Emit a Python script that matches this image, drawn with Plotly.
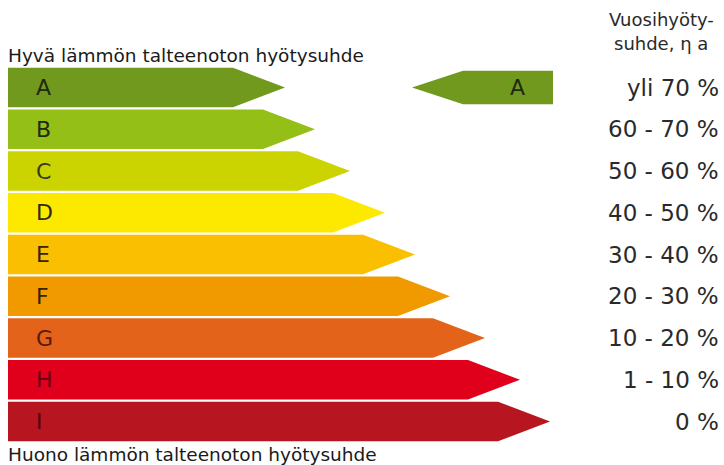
import plotly.graph_objects as go

# ---- data ----
classes = ["A", "B", "C", "D", "E", "F", "G", "H", "I"]
ranges = ["yli 70 %", "60 - 70 %", "50 - 60 %", "40 - 50 %", "30 - 40 %",
          "20 - 30 %", "10 - 20 %", "1 - 10 %", "0 %"]
arrow_lengths = [285, 315, 350, 385, 415, 450, 485, 520, 550]  # tip position (px-units)
colors = ["#71991e", "#93bf17", "#cbd400", "#fde800", "#f9bf00",
          "#f19a00", "#e3631a", "#e1001c", "#b7151f"]
letter_colors = ["#1f2a10", "#1f2a10", "#3a3a2a", "#2e2a10", "#3a1d0a",
                 "#3a1d0a", "#5a1a0a", "#6a0012", "#5a0010"]
rated_class = "A"
header_lines = ["Vuosihyöty-", "suhde, η a"]
top_text = "Hyvä lämmön talteenoton hyötysuhde"
bottom_text = "Huono lämmön talteenoton hyötysuhde"

# ---- geometry (layout only) ----
x0 = 8
head = 52
half_h = 0.475
pitch = 41.75
y_top_px = 87.5
H = 465
W = 724
y_range = [(H - y_top_px) / pitch, -y_top_px / pitch]


def py(px):
    return (px - y_top_px) / pitch


fig = go.Figure()
font = "DejaVu Sans, Verdana, sans-serif"

for i, (c, L, col) in enumerate(zip(classes, arrow_lengths, colors)):
    xs = [x0, L - head, L, L - head, x0, x0]
    ys = [i - half_h, i - half_h, i, i + half_h, i + half_h, i - half_h]
    fig.add_trace(go.Scatter(x=xs, y=ys, fill="toself", fillcolor=col,
                             mode="lines", line=dict(width=0, color=col),
                             hoverinfo="skip", showlegend=False))
    fig.add_annotation(x=x0 + 26, y=i, text=c, showarrow=False, xanchor="left",
                       yanchor="middle",
                       font=dict(family=font, size=22, color=letter_colors[i]))
    fig.add_annotation(x=721, y=i, text=ranges[i], showarrow=False, xanchor="right",
                       yanchor="middle",
                       font=dict(family=font, size=23, color="#2a2a2a"))

# rated arrow
ri = classes.index(rated_class)
rx_tip, rx_body, rx_right = 412, 463, 553
rh = 0.4
fig.add_trace(go.Scatter(
    x=[rx_tip, rx_body, rx_right, rx_right, rx_body, rx_tip],
    y=[ri, ri - rh, ri - rh, ri + rh, ri + rh, ri],
    fill="toself", fillcolor=colors[ri], mode="lines",
    line=dict(width=0, color=colors[ri]), hoverinfo="skip", showlegend=False))
fig.add_annotation(x=517, y=ri, text=rated_class, showarrow=False, xanchor="center",
                   yanchor="middle", font=dict(family=font, size=22, color="#1f2a10"))

# header and descriptive texts
for j, (line, ypx) in enumerate(zip(header_lines, [19, 43])):
    fig.add_annotation(x=661, y=py(ypx), text=line, showarrow=False, xanchor="center",
                       yanchor="middle",
                       font=dict(family=font, size=18, color="#2a2a2a"))
fig.add_annotation(x=x0 - 2, y=py(55), text=top_text, showarrow=False, xanchor="left",
                   yanchor="middle", font=dict(family=font, size=18.5, color="#1a1a1a"))
fig.add_annotation(x=x0 - 2, y=py(454), text=bottom_text, showarrow=False, xanchor="left",
                   yanchor="middle", font=dict(family=font, size=18.5, color="#1a1a1a"))

fig.update_layout(
    width=W, height=H, margin=dict(l=0, r=0, t=0, b=0),
    paper_bgcolor="white", plot_bgcolor="white",
    xaxis=dict(range=[0, W], visible=False, fixedrange=True),
    yaxis=dict(range=y_range, visible=False, fixedrange=True),
)
fig.write_html("out.html", config={"displayModeBar": False},
               post_script="document.body.style.margin='0';document.body.style.overflow='hidden';")
